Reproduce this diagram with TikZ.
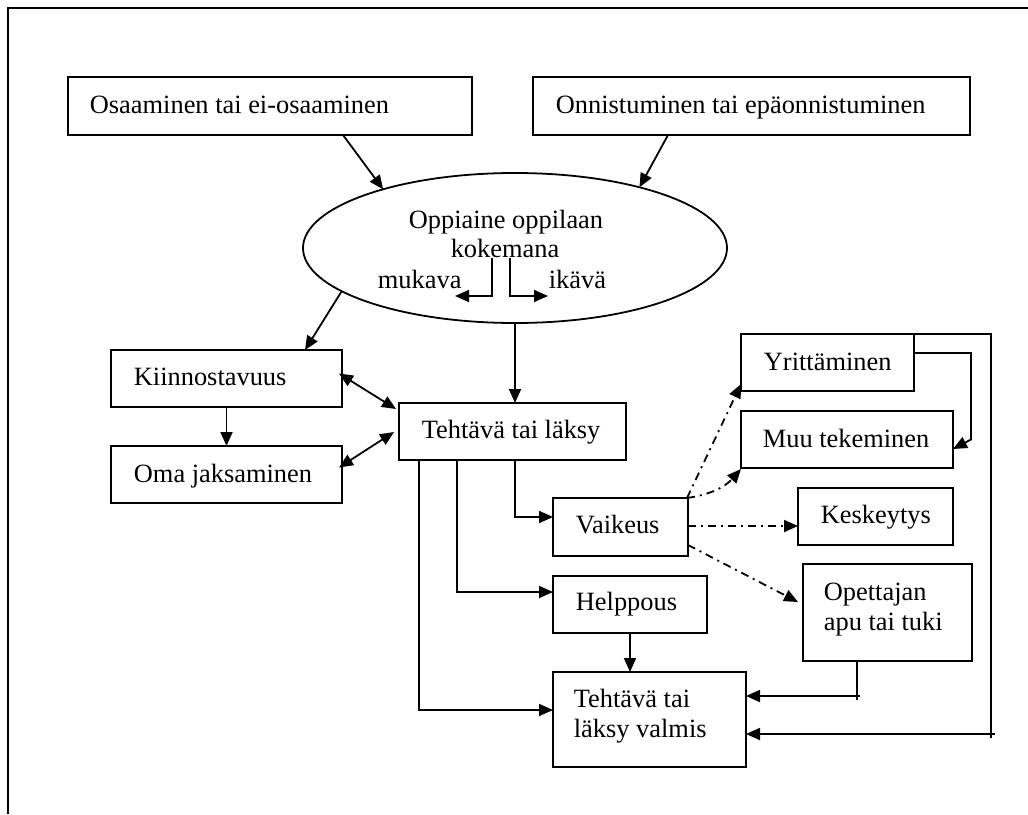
\documentclass[tikz,border=0pt]{standalone}
\usepackage{fontspec}
\setmainfont{Liberation Serif}
\usetikzlibrary{arrows.meta,calc,shapes.geometric}
\begin{document}
\begin{tikzpicture}[x=1pt,y=-1pt,line width=1.8pt,
  box/.style={draw,rectangle,inner sep=0pt,outer sep=0pt,anchor=north west},
  lbl/.style={anchor=base west,inner sep=0pt,font=\fontsize{26.4}{30}\selectfont},
  clbl/.style={lbl,anchor=base},
  arr/.style={-{Triangle[length=14pt,width=12pt]}},
  dbl/.style={{Triangle[length=14pt,width=12pt]}-{Triangle[length=14pt,width=12pt]}},
  dd/.style={dash pattern=on 8pt off 5pt on 2pt off 5pt}]
\useasboundingbox (0,0) rectangle (1028,814);
% page frame
\draw (1028,8) -- (8,8) -- (8,814);

% boxes
\node[box,minimum width=404pt,minimum height=58pt] (osa) at (68,77) {};
\node[box,minimum width=437pt,minimum height=58pt] (onn) at (533,77) {};
\node[draw,ellipse,minimum width=424pt,minimum height=150pt,inner sep=0pt,outer sep=0pt] (ell) at (515,248) {};
\node[box,minimum width=231pt,minimum height=57pt] (kiin) at (111,350) {};
\node[box,minimum width=231pt,minimum height=57pt] (oma) at (111,446) {};
\node[box,minimum width=227pt,minimum height=57pt] (teht) at (399,403) {};
\node[box,minimum width=135pt,minimum height=58pt] (vaik) at (553,498) {};
\node[box,minimum width=154pt,minimum height=57pt] (help) at (553,576) {};
\node[box,minimum width=193pt,minimum height=95pt] (valm) at (553,672) {};
\node[box,minimum width=173pt,minimum height=57pt] (yrit) at (741,334) {};
\node[box,minimum width=212pt,minimum height=57pt] (muu) at (741,411) {};
\node[box,minimum width=155pt,minimum height=57pt] (kesk) at (798,488) {};
\node[box,minimum width=169pt,minimum height=97pt] (opet) at (803,564) {};

% texts
\node[lbl] (tosa) at (89,113) {Osaaminen tai ei-osaaminen};
\node[lbl] (tonn) at (555,113) {Onnistuminen tai epäonnistuminen};
\node[clbl] (tell1) at (506,228) {Oppiaine oppilaan};
\node[clbl] (tell2) at (505,257) {kokemana};
\node[lbl] (tmuk) at (377,288) {mukava};
\node[lbl] (tika) at (548,288) {ikävä};
\node[lbl] (tkiin) at (133,385) {Kiinnostavuus};
\node[lbl] (toma) at (133,482) {Oma jaksaminen};
\node[lbl] (tteht) at (421,438) {Tehtävä tai läksy};
\node[lbl] (tvaik) at (575,533) {Vaikeus};
\node[lbl] (thelp) at (575,610) {Helppous};
\node[lbl] (tvalm1) at (573,707) {Tehtävä tai};
\node[lbl] (tvalm2) at (573,737) {läksy valmis};
\node[lbl] (tyrit) at (763,370) {Yrittäminen};
\node[lbl] (tmuu) at (762,447) {Muu tekeminen};
\node[lbl] (tkesk) at (820,523) {Keskeytys};
\node[lbl] (topet1) at (823,600) {Opettajan};
\node[lbl] (topet2) at (823,630) {apu tai tuki};

% arrows into and out of the ellipse
\draw[arr] ($(osa.south west)+(275,0)$) -- (ell.156.5);
\draw[arr] ($(onn.south west)+(135,0)$) -- (ell.26.8);
\draw[arr] (ell.194.5) -- ($(kiin.north west)+(194,0)$);
\draw[arr] (ell.south) -- (ell.south |- teht.north);

% mukava / ikava split
\coordinate (mk0) at (492,258);
\coordinate (mk1) at (455,296);
\coordinate (ik0) at (510,258);
\coordinate (ik1) at (548,296);
\draw[arr] (mk0) |- (mk1);
\draw[arr] (ik0) |- (ik1);

% left column
\draw[arr] (kiin.south) -- (oma.north);
\draw[dbl] ($(kiin.east)+(-3,-5)$) -- ($(teht.north west)+(-3,6)$);
\draw[dbl] ($(oma.east)+(-3,-7)$) -- ($(teht.north west)+(-5,29)$);

% branches from the task box
\draw[arr] ($(teht.south west)+(116,0)$) |- ($(vaik.north west)+(0,19)$);
\draw[arr] ($(teht.south west)+(58,0)$) |- ($(help.north west)+(0,16)$);
\draw[arr] ($(teht.south west)+(20,0)$) |- ($(valm.north west)+(0,38)$);
\draw[arr] (help.south) -- (help.south |- valm.north);

% dash-dot options from difficulty
\draw[dd,arr] ($(vaik.north east)+(-1,0)$) -- ($(yrit.south west)+(0,-7)$);
\draw[dd,arr] ($(vaik.north east)+(-1,0)$) to[bend right=20] ($(muu.south west)+(0,1)$);
\draw[dd,arr] ($(vaik.north east)+(0,28)$) -- ($(kesk.north west)+(0,38)$);
\draw[dd,arr] ($(vaik.north east)+(0,47)$) -- ($(opet.north west)+(-5,38)$);

% return paths to the finished box
\coordinate (y1) at ($(yrit.north east)+(0,19)$);
\coordinate (y2) at ($(y1)+(57,0)$);
\draw[arr] (y1) -- (y2) -- (y2 |- muu.east) -- ($(muu.north east)+(0,38)$);
\coordinate (r1) at ($(yrit.north east)+(77,0)$);
\coordinate (r2) at ($(r1)+(0,404)$);
\draw (yrit.north east) -- (r1) -- (r2);
\draw[arr] ($(r2)+(4,-4)$) -- ($(valm.north east)+(0,62)$);
\coordinate (o1) at ($(opet.south west)+(54,0)$);
\draw (o1) -- ++(0,39);
\draw[arr] ($(o1)+(3,35)$) -- ($(valm.north east)+(0,24)$);
\end{tikzpicture}
\end{document}
